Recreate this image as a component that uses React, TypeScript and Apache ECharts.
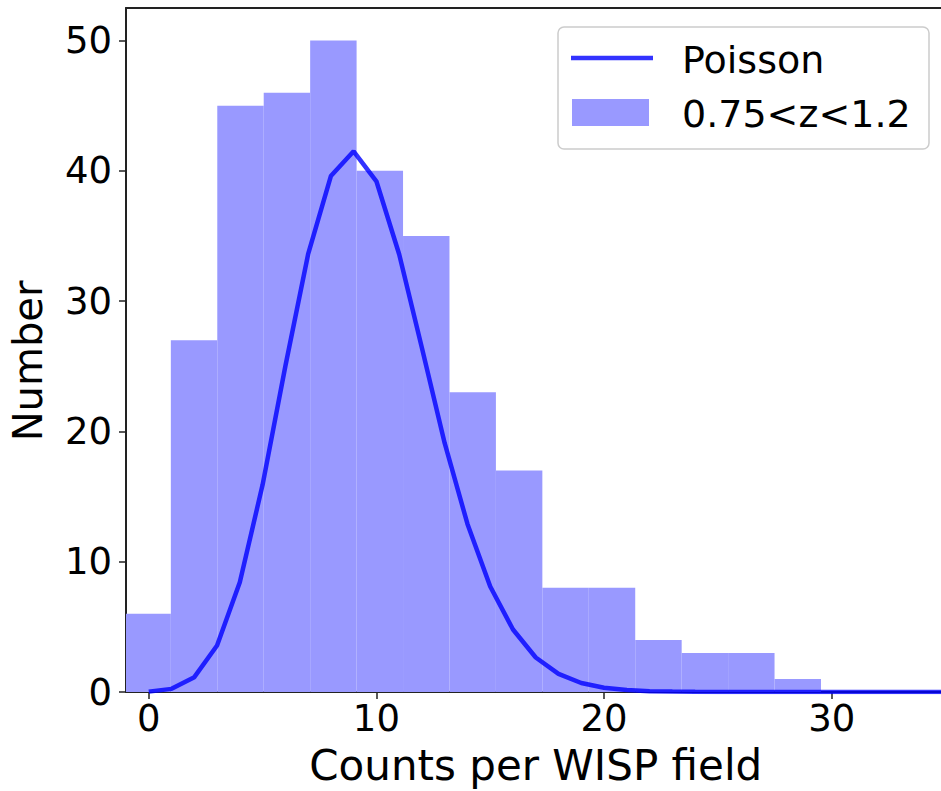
import React, { useEffect, useRef } from "react";
import * as echarts from "echarts";

// Histogram bins (left edge, right edge) and counts
const binLeft = [-1.07, 0.97, 3.01, 5.05, 7.09, 9.13, 11.17, 13.21, 15.25, 17.29, 19.33, 21.37, 23.41, 25.45, 27.49];
const binRight = [0.97, 3.01, 5.05, 7.09, 9.13, 11.17, 13.21, 15.25, 17.29, 19.33, 21.37, 23.41, 25.45, 27.49, 29.53];
const binCounts = [6, 27, 45, 46, 50, 40, 35, 23, 17, 8, 8, 4, 3, 3, 1];

// Poisson curve points
const poissonX = [0, 1, 2, 3, 4, 5, 6, 7, 8, 9, 10, 11, 12, 13, 14, 15, 16, 17, 18, 19, 20, 21, 22, 23, 24, 25, 26, 27, 28, 29, 30, 31, 32, 33, 34, 35];
const poissonY = [0.03, 0.24, 1.14, 3.57, 8.42, 15.9, 25.0, 33.6, 39.6, 41.5, 39.2, 33.6, 26.4, 19.1, 12.9, 8.1, 4.8, 2.65, 1.39, 0.69, 0.33, 0.15, 0.06, 0.03, 0.01, 0, 0, 0, 0, 0, 0, 0, 0, 0, 0, 0];

const xTicks = [0, 10, 20, 30];
const yTicks = [0, 10, 20, 30, 40, 50];

const legendNames = ["Poisson", "0.75<z<1.2"];

const FONT = "DejaVu Sans";

export default function App() {
  const ref = useRef<HTMLDivElement>(null);
  useEffect(() => {
    if (!ref.current) return;
    const chart = echarts.init(ref.current, undefined, { renderer: "svg" });
    const histData = binCounts.map((c, i) => [binLeft[i], binRight[i], c]);
    const lineData = poissonX.map((x, i) => [x, poissonY[i]]);
    const axisLine = { show: true, lineStyle: { color: "#222", width: 2 } };
    chart.setOption({
      animation: false,
      backgroundColor: "#fff",
      grid: { left: 126, right: 0.5, top: 8, bottom: 98, containLabel: false },
      xAxis: [
        {
          type: "value",
          min: -1,
          max: 35,
          axisLine: { ...axisLine, onZero: false },
          splitLine: { show: false },
          axisTick: { show: true, length: 7, lineStyle: { color: "#222", width: 1.5 }, customValues: xTicks },
          axisLabel: { customValues: xTicks, fontFamily: FONT, fontSize: 37, color: "#000", margin: 8 },
          name: "Counts per WISP field",
          nameLocation: "middle",
          nameGap: 52,
          nameTextStyle: { fontFamily: FONT, fontSize: 42, color: "#000" },
        },
        {
          type: "value",
          position: "top",
          min: -1,
          max: 35,
          axisLine: { ...axisLine, onZero: false },
          axisTick: { show: false },
          axisLabel: { show: false },
          splitLine: { show: false },
        },
      ],
      yAxis: {
        type: "value",
        min: 0,
        max: 52.5,
        axisLine: { ...axisLine, onZero: false },
        splitLine: { show: false },
        axisTick: { show: true, length: 7, lineStyle: { color: "#222", width: 1.5 }, customValues: yTicks },
        axisLabel: { customValues: yTicks, fontFamily: FONT, fontSize: 37, color: "#000", margin: 14 },
        name: "Number",
        nameLocation: "middle",
        nameGap: 78,
        nameTextStyle: { fontFamily: FONT, fontSize: 40, color: "#000", padding: [0, 22, 0, 0] },
      },
      series: [
        {
          name: legendNames[1],
          type: "custom",
          clip: true,
          xAxisIndex: 0,
          data: histData,
          renderItem: (params: any, api: any) => {
            const p0 = api.coord([api.value(0), api.value(2)]);
            const p1 = api.coord([api.value(1), 0]);
            return {
              type: "rect",
              shape: { x: p0[0], y: p0[1], width: p1[0] - p0[0], height: p1[1] - p0[1] },
              style: { fill: "#9999ff" },
            };
          },
          z: 1,
        },
        {
          name: legendNames[0],
          type: "line",
          xAxisIndex: 0,
          data: lineData,
          showSymbol: false,
          symbol: "none",
          lineStyle: { color: "rgba(0,0,255,0.8)", width: 4.5 },
          z: 3,
        },
      ],
      graphic: [
        {
          type: "rect",
          shape: { x: 558, y: 27, width: 371, height: 122, r: 6 },
          style: { fill: "rgba(255,255,255,0.8)", stroke: "#cccccc", lineWidth: 1.5 },
          z: 10,
        },
        {
          type: "line",
          shape: { x1: 571, y1: 58, x2: 653, y2: 58 },
          style: { stroke: "rgba(0,0,255,0.8)", lineWidth: 4.5 },
          z: 11,
        },
        {
          type: "rect",
          shape: { x: 572, y: 99, width: 77, height: 27 },
          style: { fill: "#9999ff" },
          z: 11,
        },
        {
          type: "text",
          x: 682,
          y: 60,
          style: { text: legendNames[0], font: `38px ${FONT}`, fill: "#000", verticalAlign: "middle" },
          z: 11,
        },
        {
          type: "text",
          x: 682,
          y: 114,
          style: { text: legendNames[1], font: `38px ${FONT}`, fill: "#000", verticalAlign: "middle" },
          z: 11,
        },
      ],
    });
    return () => chart.dispose();
  }, []);
  return (
    <div style={{ position: "fixed", left: 0, top: 0, width: 941, height: 791, overflow: "hidden", background: "#fff" }}>
      <div ref={ref} style={{ width: 946, height: 791 }} />
    </div>
  );
}
